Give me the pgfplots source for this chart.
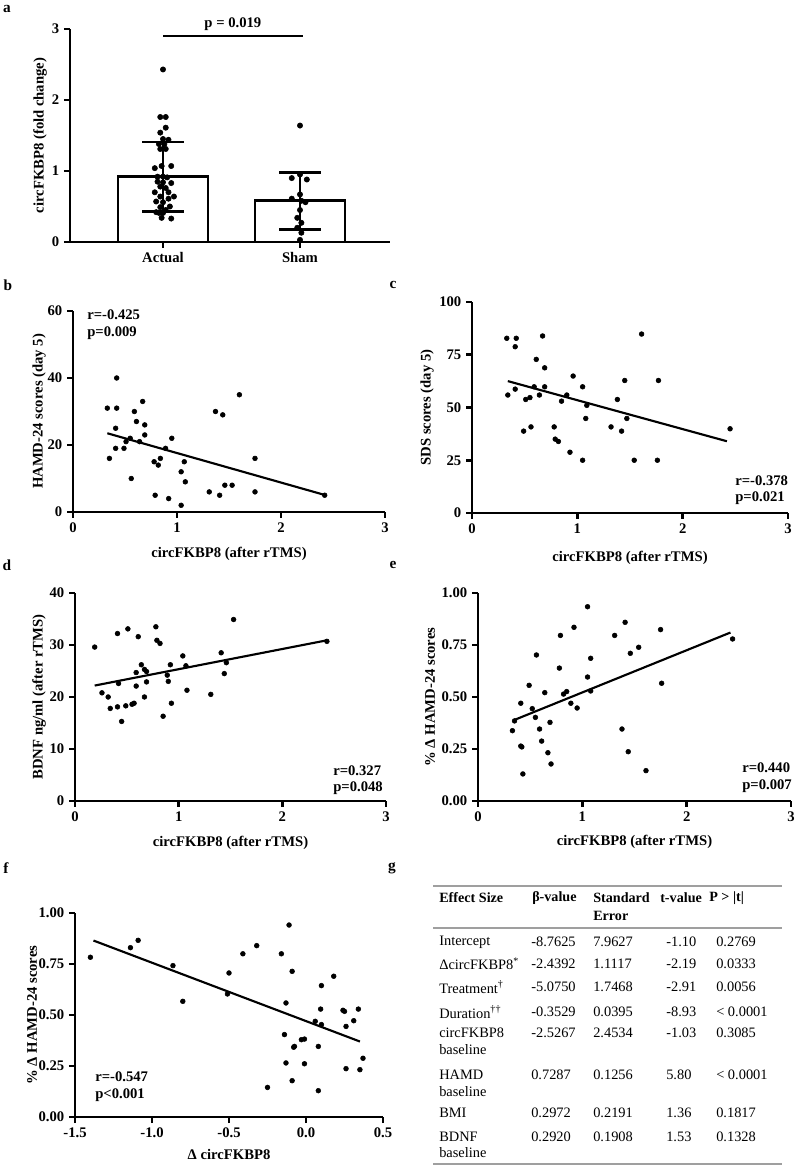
\documentclass[border=0pt]{standalone}
\usepackage{fontspec}
\setmainfont{Liberation Serif}
\usepackage{pgfplots}
\pgfplotsset{compat=1.18}
\pgfplotsset{
 gp/.style={
  scale only axis,
  anchor=south west,
  axis lines=left,
  axis line style={-, line width=2.1pt},
  tick style={line width=1.9pt, black},
  major tick length=4.5pt,
  tick align=outside,
  clip=false,
  tick label style={font=\fontsize{11}{12}\selectfont\bfseries},
  label style={font=\fontsize{11}{12}\selectfont\bfseries},
  /pgf/number format/assume math mode=true,
  minor tick num=0,
 },
 xl/.style={xlabel style={at={([yshift=-#1]axis description cs:0.5,0)},anchor=center}},
 yl/.style={ylabel style={at={([xshift=-#1]axis description cs:0,0.5)},anchor=center}},
 sc/.style={only marks, mark=*, mark size=1.8pt, black},
 rl/.style={black, line width=1.6pt, mark=none},
}
\begin{document}
\begin{tikzpicture}
\useasboundingbox (0,0) rectangle (595.5pt,874.5pt);

% ---------- panel a
\begin{axis}[gp, at={(52.5pt,693pt)}, width=240pt, height=159.75pt,
  xmin=0.321, xmax=2.657, ymin=0, ymax=3, ytick={0,1,2,3},
  xtick={1,2}, xticklabels={Actual,Sham},
  ylabel={circFKBP8 (fold change)}, yl=22.5pt]
\addplot[ybar, bar width=0.657, bar shift=0pt, fill=white, draw=black, line width=2.2pt] coordinates {(1,0.92) (2,0.58)};
\addplot[draw=none, mark=none, forget plot, error bars/.cd, y dir=both, y explicit,
  error bar style={draw=black, line width=2pt},
  error mark options={draw=black, rotate=90, mark size=15.5pt, line width=2pt}]
  coordinates {(1,0.92) +- (0,0.49) (2,0.58) +- (0,0.40)};
\addplot[only marks, mark=*, mark size=2pt, black] coordinates {
(1.00,2.43)(0.98,1.76)(1.02,1.76)(1.02,1.61)(0.98,1.54)(1.00,1.45)(1.04,1.44)
(0.97,1.38)(1.01,1.38)(0.98,1.31)(1.02,1.31)(0.94,1.04)(0.99,1.07)(1.06,1.07)
(0.96,0.92)(1.00,0.92)(1.03,0.91)(0.96,0.85)(1.00,0.84)(1.06,0.83)(0.98,0.78)
(1.02,0.76)(0.94,0.70)(0.98,0.64)(1.04,0.70)(1.08,0.64)(0.95,0.57)(1.00,0.56)
(1.04,0.61)(0.98,0.49)(1.05,0.50)(0.95,0.42)(0.97,0.41)(1.00,0.41)(1.02,0.45)
(0.99,0.34)(1.06,0.33)
(2.00,1.64)(1.94,0.90)(2.00,0.95)(2.05,0.88)(2.00,0.67)(1.94,0.61)(2.01,0.58)
(2.04,0.56)(2.00,0.45)(1.98,0.34)(2.01,0.27)(1.98,0.20)(2.01,0.13)(2.00,0.03)};
\addplot[black, line width=1.8pt, mark=none] coordinates {(1,2.9) (2.02,2.9)};
\node[font=\fontsize{11}{12}\selectfont\bfseries] at (axis cs:1.51,3.07) {p = 0.019};
\end{axis}

% ---------- panel b
\begin{axis}[gp, at={(54.75pt,490.5pt)}, width=234pt, height=150.75pt,
  xmin=0, xmax=3, ymin=0, ymax=60, xtick={0,1,2,3}, ytick={0,20,40,60},
  xlabel={circFKBP8 (after rTMS)}, ylabel={HAMD-24 scores (day 5)}, xl=31.5pt, yl=25.5pt]
\addplot[sc] coordinates {
(0.33,31)(0.42,40)(0.42,31)(0.41,25)(0.35,16)(0.41,19)(0.49,19)(0.51,21)(0.55,22)
(0.56,10)(0.59,30)(0.61,27)(0.64,21)(0.67,33)(0.69,26)(0.69,23)(0.78,15)(0.79,5)
(0.82,14)(0.84,16)(0.89,19)(0.92,4)(0.95,22)(1.04,12)(1.04,2)(1.07,15)(1.08,9)
(1.31,6)(1.37,30)(1.41,5)(1.44,29)(1.46,8)(1.53,8)(1.60,35)(1.75,6)(1.75,16)(2.42,5)};
\addplot[rl] coordinates {(0.33,23.5) (2.43,5.0)};
\end{axis}

% ---------- panel c
\begin{axis}[gp, at={(354pt,489.75pt)}, width=237pt, height=158.25pt,
  xmin=0, xmax=3, ymin=0, ymax=100, xtick={0,1,2,3}, ytick={0,25,50,75,100},
  xlabel={circFKBP8 (after rTMS)}, ylabel={SDS scores (day 5)}, xl=33.75pt, yl=33.75pt]
\addplot[sc] coordinates {
(0.33,82.8)(0.41,78.8)(0.42,82.8)(0.67,83.9)(1.61,84.8)(0.34,55.9)(0.41,58.7)
(0.49,38.8)(0.51,53.8)(0.55,54.7)(0.56,40.8)(0.59,59.8)(0.61,72.8)(0.64,55.9)
(0.69,68.8)(0.69,59.8)(0.78,40.8)(0.79,35.0)(0.82,33.9)(0.85,53.0)(0.90,55.9)
(0.93,28.8)(0.96,64.9)(1.05,59.8)(1.05,25.0)(1.08,44.8)(1.09,51.0)(1.32,40.8)
(1.38,53.8)(1.42,38.8)(1.45,62.8)(1.47,44.8)(1.54,25.0)(1.76,25.0)(1.77,62.8)(2.45,39.9)};
\addplot[rl] coordinates {(0.34,62.5) (2.42,34)};
\end{axis}

% ---------- panel d
\begin{axis}[gp, at={(56.25pt,273.75pt)}, width=233.25pt, height=156pt,
  xmin=0, xmax=3, ymin=0, ymax=40, xtick={0,1,2,3}, ytick={0,10,20,30,40},
  xlabel={circFKBP8 (after rTMS)}, ylabel={BDNF ng/ml (after rTMS)}, xl=31.5pt, yl=27pt]
\addplot[sc] coordinates {
(0.19,29.6)(0.26,20.8)(0.32,20.0)(0.34,17.8)(0.41,18.1)(0.41,32.2)(0.42,22.6)
(0.45,15.3)(0.49,18.3)(0.51,33.1)(0.55,18.6)(0.57,18.8)(0.59,22.1)(0.59,24.7)
(0.61,31.6)(0.64,26.2)(0.67,20.0)(0.67,25.3)(0.69,24.9)(0.69,22.9)(0.78,33.5)
(0.79,30.9)(0.82,30.3)(0.85,16.3)(0.89,24.2)(0.90,23.0)(0.92,26.2)(0.93,18.8)
(1.04,27.9)(1.07,26.0)(1.08,21.3)(1.31,20.5)(1.41,28.5)(1.44,24.5)(1.46,26.6)
(1.53,34.9)(2.43,30.7)};
\addplot[rl] coordinates {(0.19,22.2) (2.43,30.9)};
\end{axis}

% ---------- panel e
\begin{axis}[gp, at={(358.5pt,273.75pt)}, width=234.75pt, height=156pt,
  xmin=0, xmax=3, ymin=0, ymax=1, xtick={0,1,2,3}, ytick={0,0.25,0.5,0.75,1},
  yticklabel style={/pgf/number format/.cd, fixed, fixed zerofill, precision=2},
  xlabel={circFKBP8 (after rTMS)}, ylabel={\% Δ HAMD-24 scores}, xl=30.75pt, yl=36pt]
\addplot[sc] coordinates {
(0.33,0.338)(0.35,0.385)(0.41,0.47)(0.41,0.264)(0.42,0.26)(0.43,0.13)(0.49,0.556)
(0.52,0.444)(0.55,0.402)(0.56,0.702)(0.59,0.346)(0.61,0.288)(0.64,0.521)(0.67,0.232)
(0.69,0.378)(0.70,0.178)(0.78,0.639)(0.79,0.796)(0.82,0.514)(0.85,0.526)(0.89,0.47)
(0.92,0.835)(0.95,0.447)(1.05,0.934)(1.05,0.596)(1.08,0.686)(1.08,0.529)(1.31,0.796)
(1.38,0.346)(1.41,0.859)(1.44,0.237)(1.46,0.71)(1.54,0.739)(1.61,0.146)(1.75,0.824)
(1.76,0.566)(2.44,0.779)};
\addplot[rl] coordinates {(0.35,0.39) (2.42,0.81)};
\end{axis}

% ---------- panel f
\begin{axis}[gp, at={(56.25pt,36.75pt)}, width=231pt, height=153pt,
  xmin=-1.5, xmax=0.5, ymin=0, ymax=1, xtick={-1.5,-1,-0.5,0,0.5}, ytick={0,0.25,0.5,0.75,1},
  yticklabel style={/pgf/number format/.cd, fixed, fixed zerofill, precision=2},
  xticklabel style={/pgf/number format/.cd, fixed, fixed zerofill, precision=1},
  xlabel={Δ circFKBP8}, ylabel={\% Δ HAMD-24 scores}, xl=27.75pt, yl=32.25pt]
\addplot[sc] coordinates {
(-1.40,0.783)(-1.14,0.830)(-1.09,0.866)(-0.864,0.742)(-0.80,0.567)(-0.50,0.706)
(-0.51,0.603)(-0.41,0.80)(-0.32,0.840)(-0.16,0.80)(-0.11,0.941)(-0.09,0.714)
(-0.13,0.559)(-0.14,0.404)(-0.13,0.265)(-0.25,0.145)(-0.09,0.178)(-0.08,0.342)
(-0.075,0.346)(-0.03,0.379)(-0.01,0.382)(-0.01,0.261)(0.06,0.469)(0.08,0.346)
(0.08,0.129)(0.095,0.529)(0.10,0.644)(0.10,0.453)(0.18,0.69)(0.24,0.523)(0.25,0.518)
(0.26,0.444)(0.26,0.237)(0.31,0.472)(0.34,0.529)(0.35,0.232)(0.37,0.288)};
\addplot[rl] coordinates {(-1.38,0.865) (0.35,0.37)};
\end{axis}

% ---------- annotations and table (pixel coordinates)
\begin{scope}[x=0.75pt, y=-0.75pt, shift={(0pt,874.5pt)},
  every node/.style={inner sep=0pt}]
\begin{scope}[every node/.append style={anchor=west, font=\fontsize{11}{12}\selectfont\bfseries}]
\node at (87,315) {r=-0.425};
\node at (87,333) {p=0.009};
\node at (735,481) {r=-0.378};
\node at (735,498) {p=0.021};
\node at (333,771) {r=0.327};
\node at (333,788) {p=0.048};
\node at (742,768) {r=0.440};
\node at (742,786) {p=0.007};
\node at (95,1077) {r=-0.547};
\node at (95,1095) {p<0.001};
\end{scope}
\begin{scope}[every node/.append style={font=\fontsize{11.5}{12}\selectfont\bfseries}]
\node at (7,9) {a};
\node at (8,285) {b};
\node at (393,285) {c};
\node at (7,565) {d};
\node at (393,565) {e};
\node at (6,868) {f};
\node at (392,868) {g};
\end{scope}
% table
\draw[gray!75, line width=1.2pt] (433,886) -- (782,886);
\draw[gray!75, line width=1.2pt] (433,928) -- (782,928);
\draw[gray!75, line width=2pt] (433,1164) -- (782,1164);
\begin{scope}[every node/.append style={anchor=west, font=\fontsize{10.6}{12}\selectfont\bfseries}]
\node at (439,898) {Effect Size};
\node at (532,898) {β-value};
\node at (593,898) {Standard};
\node at (593,916) {Error};
\node at (660,898) {t-value};
\node at (709,898) {P > |t|};
\end{scope}
\begin{scope}[every node/.append style={anchor=west, font=\fontsize{10.8}{12}\selectfont}]
\node at (439,942) {Intercept};
\node at (531,942) {-8.7625}; \node at (593,942) {7.9627}; \node at (666,942) {-1.10}; \node at (716,942) {0.2769};
\node at (439,964) {ΔcircFKBP8\textsuperscript{*}};
\node at (531,964) {-2.4392}; \node at (593,964) {1.1117}; \node at (666,964) {-2.19}; \node at (716,964) {0.0333};
\node at (439,987) {Treatment\textsuperscript{†}};
\node at (531,987) {-5.0750}; \node at (593,987) {1.7468}; \node at (666,987) {-2.91}; \node at (716,987) {0.0056};
\node at (439,1012) {Duration\textsuperscript{††}};
\node at (531,1012) {-0.3529}; \node at (593,1012) {0.0395}; \node at (666,1012) {-8.93}; \node at (716,1012) {< 0.0001};
\node at (439,1033) {circFKBP8};
\node at (439,1050) {baseline};
\node at (531,1033) {-2.5267}; \node at (593,1033) {2.4534}; \node at (666,1033) {-1.03}; \node at (716,1033) {0.3085};
\node at (439,1075) {HAMD};
\node at (439,1092) {baseline};
\node at (531,1075) {0.7287}; \node at (593,1075) {0.1256}; \node at (666,1075) {5.80}; \node at (716,1075) {< 0.0001};
\node at (439,1113) {BMI};
\node at (531,1113) {0.2972}; \node at (593,1113) {0.2191}; \node at (666,1113) {1.36}; \node at (716,1113) {0.1817};
\node at (439,1137) {BDNF};
\node at (439,1153) {baseline};
\node at (531,1137) {0.2920}; \node at (593,1137) {0.1908}; \node at (666,1137) {1.53}; \node at (716,1137) {0.1328};
\end{scope}
\end{scope}
\end{tikzpicture}
\end{document}
